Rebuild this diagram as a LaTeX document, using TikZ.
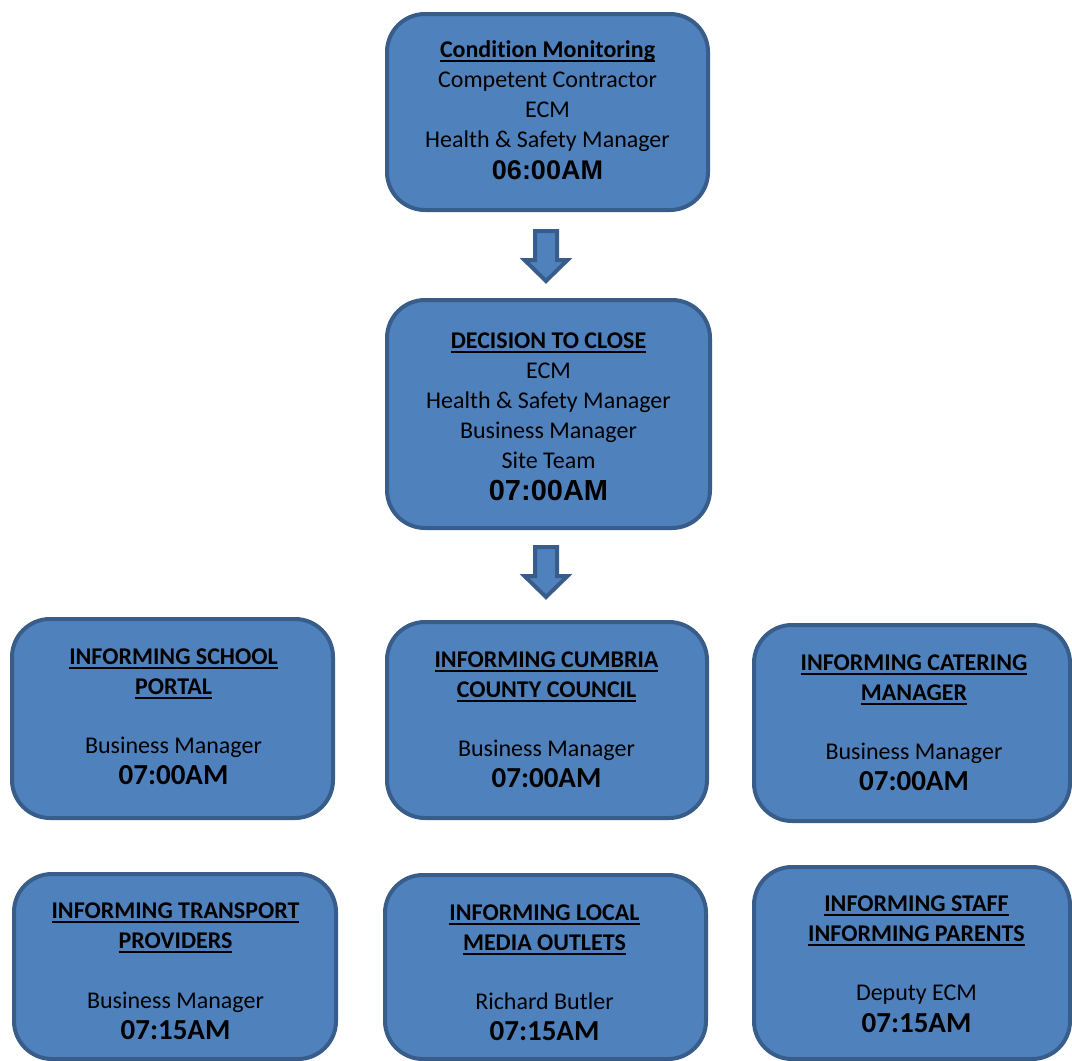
\documentclass[tikz,border=0pt]{standalone}
\usepackage{fontspec}
\setmainfont{Carlito}[Ligatures=NoCommon]
\newfontfamily\arialfam{Liberation Sans}
\definecolor{boxfill}{HTML}{4F81BD}
\definecolor{boxline}{HTML}{385D8A}
\newsavebox\ttlsave
\newcommand\ttl[1]{\sbox\ttlsave{\bfseries #1}\leavevmode\rlap{\rule[-4.5pt]{\wd\ttlsave}{1.8pt}}\usebox\ttlsave}
\newcommand\tmrow[1]{{\fontsize{29}{30}\selectfont\bfseries #1}}
\newcommand\tmtop[2]{{\fontsize{#1}{30}\selectfont\arialfam\bfseries #2}}
\tikzset{
  box/.style={draw=boxline, fill=boxfill, line width=4pt, rounded corners=38pt, rectangle, inner sep=0pt},
  txt/.style={anchor=base, text width=320pt, align=flush center, inner sep=0pt, font=\fontsize{24}{30}\selectfont},
  blockarrow/.style={draw=boxline, fill=boxfill, line width=4pt, line join=miter}
}
\begin{document}
\begin{tikzpicture}[x=1pt,y=-1pt]
\useasboundingbox (0,0) rectangle (1072,1061);
\clip (0,0) rectangle (1072,1061);
% boxes
\node[box, minimum width=321pt, minimum height=196pt] (b1) at (547.5,112) {};
\node[box, minimum width=323pt, minimum height=228pt] (b2) at (548.5,414) {};
\node[box, minimum width=321pt, minimum height=199pt] (ba) at (172.5,718.5) {};
\node[box, minimum width=320pt, minimum height=196pt] (bb) at (547,720) {};
\node[box, minimum width=316pt, minimum height=196pt] (bc) at (912,723) {};
\node[box, minimum width=322pt, minimum height=185pt] (bd) at (175,966.5) {};
\node[box, minimum width=321pt, minimum height=184pt] (be) at (545.5,967) {};
\node[box, minimum width=316pt, minimum height=192pt] (bf) at (912,963) {};
% texts
\node[txt] (t1) at (547.5,57) {\ttl{Condition Monitoring}\\Competent Contractor\\ECM\\Health \& Safety Manager\\[2pt]\tmtop{27}{06:00AM}};
\node[txt] (t2) at (548.5,348) {\ttl{DECISION TO CLOSE}\\ECM\\Health \& Safety Manager\\Business Manager\\Site Team\\[2pt]\tmtop{29}{07:00AM}};
\node[txt] (ta) at (173.5,664) {\ttl{INFORMING SCHOOL}\\\ttl{PORTAL}\\[29pt]Business Manager\\[1pt]\tmrow{07:00AM}};
\node[txt] (tb) at (546.5,667) {\ttl{INFORMING CUMBRIA}\\\ttl{COUNTY COUNCIL}\\[29pt]Business Manager\\[1pt]\tmrow{07:00AM}};
\node[txt] (tc) at (914,670) {\ttl{INFORMING CATERING}\\\ttl{MANAGER}\\[29pt]Business Manager\\[1pt]\tmrow{07:00AM}};
\node[txt] (td) at (175.5,918) {\ttl{INFORMING TRANSPORT}\\\ttl{PROVIDERS}\\[30pt]Business Manager\\[1pt]\tmrow{07:15AM}};
\node[txt] (te) at (544.5,920) {\ttl{INFORMING LOCAL}\\\ttl{MEDIA OUTLETS}\\[29pt]Richard Butler\\[1pt]\tmrow{07:15AM}};
\node[txt] (tf) at (916.5,911) {\ttl{INFORMING STAFF}\\\ttl{INFORMING PARENTS}\\[29pt]Deputy ECM\\[2pt]\tmrow{07:15AM}};
% block arrows
\coordinate (a1) at (546,231);
\coordinate (a2) at (546,547);
\foreach \a in {a1,a2}{
  \draw[blockarrow] (\a) ++(-11,0) -- ++(22,0) -- ++(0,29) -- ++(10.5,0) -- ++(-21.5,21) -- ++(-21.5,-21) -- ++(10.5,0) -- cycle;
}
\end{tikzpicture}
\end{document}
